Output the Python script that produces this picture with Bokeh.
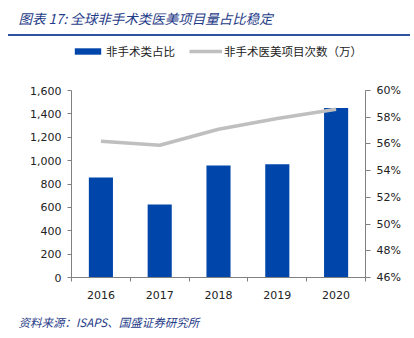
from bokeh.plotting import figure
from bokeh.layouts import column
from bokeh.models import (Range1d, LinearAxis, FixedTicker, NumeralTickFormatter,
                          Legend, LegendItem, Title, ColumnDataSource, Div)
from bokeh.embed import file_html
from bokeh.resources import INLINE

years = [2016, 2017, 2018, 2019, 2020]
year_labels = ["2016", "2017", "2018", "2019", "2020"]
procedures = [855, 625, 958, 968, 1450]          # bars, left axis
share = [0.562, 0.559, 0.571, 0.579, 0.586]      # line, right axis
left_ticks = [0, 200, 400, 600, 800, 1000, 1200, 1400, 1600]
right_ticks = [0.46, 0.48, 0.50, 0.52, 0.54, 0.56, 0.58, 0.60]

title_text = "图表 17:  全球非手术类医美项目量占比稳定"
source_text = "资料来源：ISAPS、国盛证券研究所"
bar_name = "非手术类占比"
line_name = "非手术医美项目次数（万）"

BLUE = "#0046AA"
GRAY = "#BFBFBF"
DARK = "#1F3C88"
RULE = "#2E54A0"
AXIS = "#808080"
TXT = "#222222"
NUM_FONT = "DejaVu Sans"
CJK = "Noto Sans CJK SC"
W = 414
BL, BR = 71, 49            # left / right borders shared by every figure

# vertical layout (page pixels)
MAIN_TOP, MAIN_BOTTOM = 42, 303
FRAME_TOP, LEGEND_TOP, AXIS_TOP, AXIS_BOTTOM = 42, 45, 90, 277
stretch = (AXIS_BOTTOM - FRAME_TOP) / (AXIS_BOTTOM - AXIS_TOP)


def strip(h, top_border):
    f = figure(width=W, height=h, output_backend="svg", toolbar_location=None,
               x_axis_type=None, y_axis_type=None,
               min_border_left=BL, min_border_right=BR, min_border_top=top_border,
               min_border_bottom=0, outline_line_color=None,
               background_fill_color="white", border_fill_color="white")
    f.grid.visible = False
    return f


def rule(h, above, below):
    html = ('<div style="margin:%dpx 0 %dpx 8px;width:402px;height:%dpx;background:%s"></div>'
            % (above, below, h, RULE))
    return Div(text=html, width=W, height=above + h + below, margin=0)


# ---------- title ----------
hdr = strip(32, 28)
hdr.title = Title(text=title_text, align="left", offset=18 - BL, standoff=0,
                  text_font=CJK, text_font_size="13.5px", text_font_style="italic",
                  text_color=DARK, vertical_align="middle")
rule1 = rule(2, 0, 8)           # page y 32..42, line at 32..34

# ---------- main chart ----------
src = ColumnDataSource(dict(x=years, v=procedures, s=share))
y0, y1 = left_ticks[0], left_ticks[-1]
r0, r1 = right_ticks[0], right_ticks[-1]

p = figure(width=W, height=MAIN_BOTTOM - MAIN_TOP, output_backend="svg",
           toolbar_location=None,
           x_range=Range1d(2015.5, 2020.5),
           y_range=Range1d(y0, y0 + (y1 - y0) * stretch),
           min_border_left=BL, min_border_right=BR, min_border_top=FRAME_TOP - MAIN_TOP,
           min_border_bottom=MAIN_BOTTOM - AXIS_BOTTOM, outline_line_color=None,
           background_fill_color="white", border_fill_color="white")
p.extra_y_ranges = {"pct": Range1d(r0, r0 + (r1 - r0) * stretch)}
p.xgrid.visible = False
p.ygrid.visible = False

bars = p.vbar(x="x", top="v", width=0.41, source=src, fill_color=BLUE, line_color=None)
line = p.line(x="x", y="s", source=src, y_range_name="pct", line_color=GRAY, line_width=3.5)

legend = Legend(items=[LegendItem(label=bar_name, renderers=[bars]),
                       LegendItem(label=line_name, renderers=[line])],
                orientation="horizontal",
                location=(0, AXIS_BOTTOM - LEGEND_TOP - 14),
                glyph_width=33, glyph_height=8, label_height=14, label_standoff=2,
                spacing=14, padding=0, margin=0, border_line_color=None,
                background_fill_alpha=0,
                label_text_font=CJK, label_text_font_size="11.5px", label_text_color=TXT)
p.add_layout(legend, "center")

xa = p.xaxis[0]
xa.ticker = FixedTicker(ticks=years, minor_ticks=[y - 0.5 for y in years] + [years[-1] + 0.5])
xa.major_label_overrides = {y: l for y, l in zip(years, year_labels)}
xa.major_tick_out = 0
xa.major_tick_in = 0
xa.minor_tick_out = 4
xa.minor_tick_in = 0
xa.minor_tick_line_color = AXIS
xa.axis_line_color = AXIS
xa.major_label_text_font = NUM_FONT
xa.major_label_text_font_size = "11px"
xa.major_label_text_color = TXT
xa.major_label_standoff = 9

ya = p.yaxis[0]
ya.ticker = FixedTicker(ticks=left_ticks)
ya.bounds = (y0, y1)
ya.formatter = NumeralTickFormatter(format="0,0")
ya.major_tick_out = 4
ya.major_tick_in = 0
ya.minor_tick_out = 0
ya.minor_tick_in = 0
ya.axis_line_color = AXIS
ya.major_tick_line_color = AXIS
ya.major_label_text_font = NUM_FONT
ya.major_label_text_font_size = "11px"
ya.major_label_text_color = TXT
ya.major_label_standoff = 6

ra = LinearAxis(y_range_name="pct", ticker=FixedTicker(ticks=right_ticks),
                formatter=NumeralTickFormatter(format="0%"), bounds=(r0, r1))
ra.major_tick_out = 5
ra.major_tick_in = 0
ra.minor_tick_out = 0
ra.minor_tick_in = 0
ra.axis_line_color = AXIS
ra.major_tick_line_color = AXIS
ra.major_label_text_font = NUM_FONT
ra.major_label_text_font_size = "11px"
ra.major_label_text_color = TXT
ra.major_label_standoff = 6
p.add_layout(ra, "right")

# ---------- footer ----------
rule2 = rule(2, 7, 0)           # page y 303..312, line at 310..312
ftr = strip(26, 13)
ftr.title = Title(text=source_text, align="left", offset=18 - BL, standoff=0,
                  text_font=CJK, text_font_size="11.5px", text_font_style="italic",
                  text_color=DARK, vertical_align="middle")

layout = column(hdr, rule1, p, rule2, ftr, spacing=0)
open("out.html", "w").write(file_html(layout, INLINE))
